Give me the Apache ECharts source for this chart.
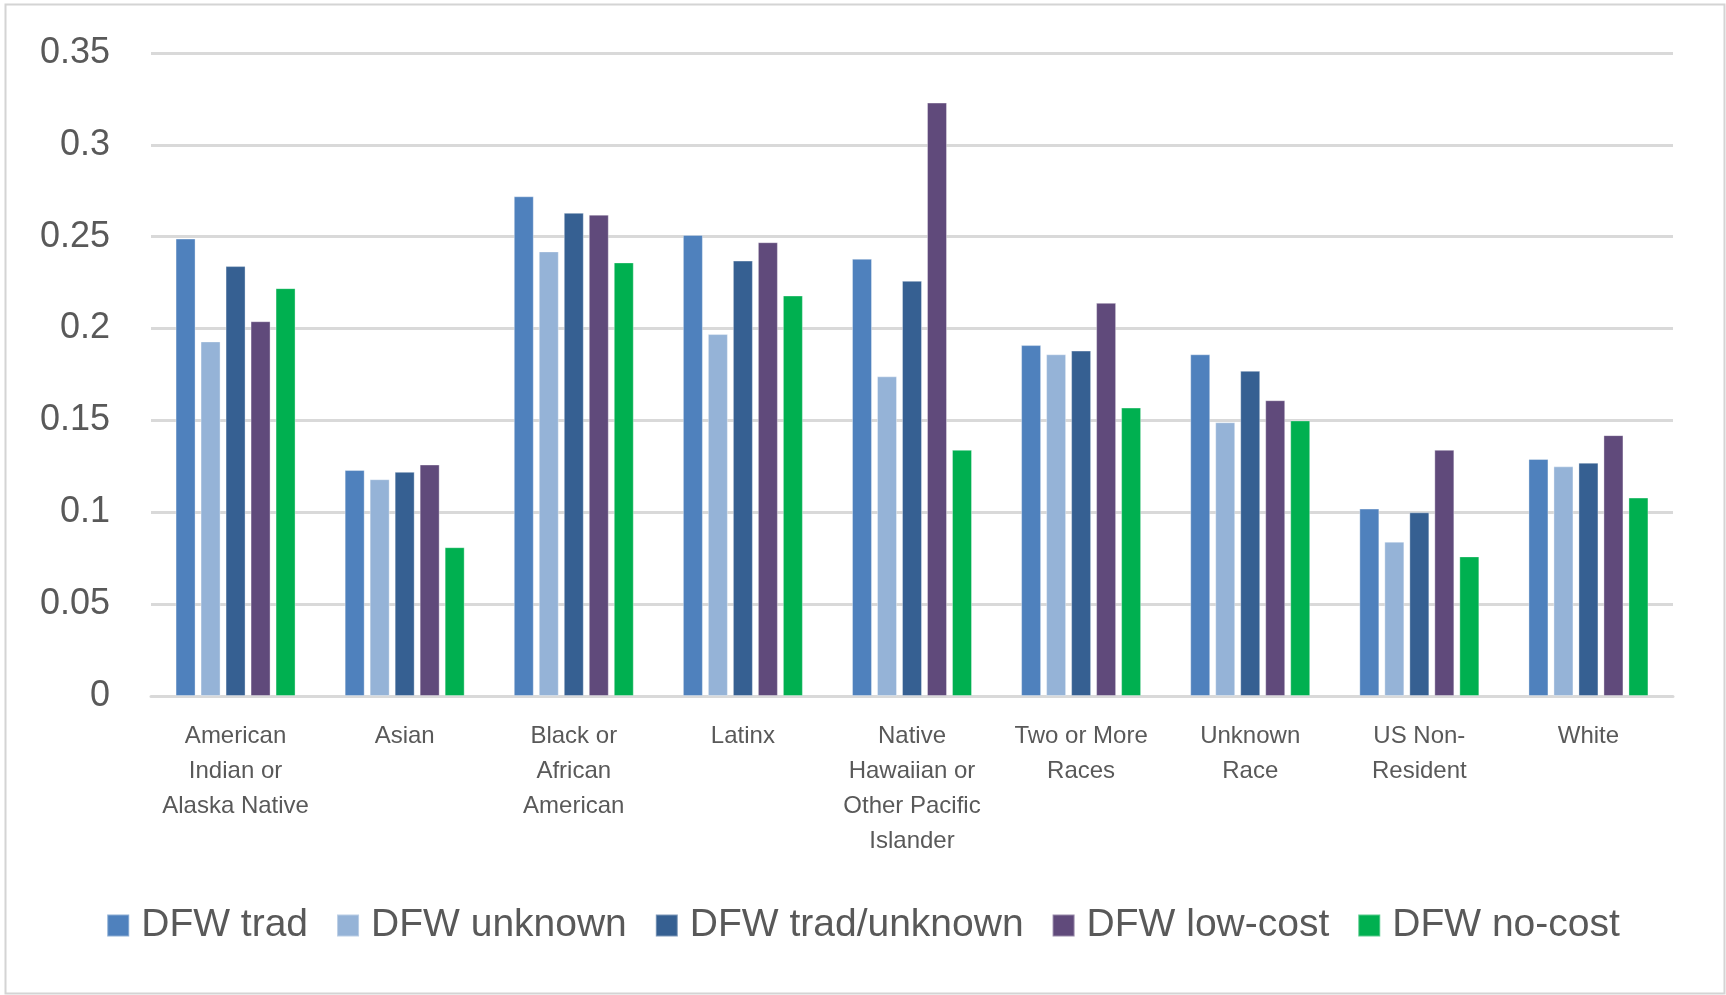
<!DOCTYPE html>
<html>
<head>
<meta charset="utf-8">
<script src="https://cdn.jsdelivr.net/npm/echarts@6/dist/echarts.min.js"></script>
<style>
html,body{margin:0;padding:0;background:#fff;}
#chart{width:1726px;height:995px;}
</style>
</head>
<body>
<div id="chart"></div>
<script>
const categories = [
  'American\nIndian or\nAlaska Native',
  'Asian',
  'Black or\nAfrican\nAmerican',
  'Latinx',
  'Native\nHawaiian or\nOther Pacific\nIslander',
  'Two or More\nRaces',
  'Unknown\nRace',
  'US Non-\nResident',
  'White'
];
const seriesNames = ['DFW trad', 'DFW unknown', 'DFW trad/unknown', 'DFW low-cost', 'DFW no-cost'];
const dfwTrad        = [0.249, 0.123, 0.272, 0.251, 0.238, 0.191, 0.186, 0.102, 0.129];
const dfwUnknown     = [0.193, 0.118, 0.242, 0.197, 0.174, 0.186, 0.149, 0.084, 0.125];
const dfwTradUnknown = [0.234, 0.122, 0.263, 0.237, 0.226, 0.188, 0.177, 0.100, 0.127];
const dfwLowCost     = [0.204, 0.126, 0.262, 0.247, 0.323, 0.214, 0.161, 0.134, 0.142];
const dfwNoCost      = [0.222, 0.081, 0.236, 0.218, 0.134, 0.157, 0.150, 0.076, 0.108];
const yTicks = [0, 0.05, 0.1, 0.15, 0.2, 0.25, 0.3, 0.35];
const colors = ['#4f81bd', '#95b3d7', '#366092', '#604a7b', '#00b050'];
const values = [dfwTrad, dfwUnknown, dfwTradUnknown, dfwLowCost, dfwNoCost];

const chart = echarts.init(document.getElementById('chart'), null, {renderer: 'canvas'});
const font = '"Liberation Sans", Arial, sans-serif';
chart.setOption({
  animation: false,
  backgroundColor: '#ffffff',
  color: colors,
  graphic: [{
    type: 'rect', left: 3, top: 2, silent: true,
    shape: {width: 1719, height: 989},
    style: {fill: 'none', stroke: '#d4d4d4', lineWidth: 2}
  }],
  grid: {left: 151, right: 53, top: 53, bottom: 299, containLabel: false},
  legend: {
    data: seriesNames,
    left: 'center',
    top: 901,
    itemWidth: 22,
    itemHeight: 22,
    itemGap: 28,
    icon: 'rect',
    textStyle: {fontFamily: font, fontSize: 39, color: '#595959', padding: [0, 0, 0, 7]}
  },
  xAxis: {
    type: 'category',
    data: categories,
    axisLine: {lineStyle: {color: '#d9d9d9', width: 3}},
    axisTick: {show: false},
    axisLabel: {
      interval: 0, margin: 23,
      fontFamily: font, fontSize: 24, color: '#595959', lineHeight: 35
    }
  },
  yAxis: {
    type: 'value',
    min: 0, max: 0.35, interval: 0.05,
    axisLine: {show: false},
    axisTick: {show: false},
    splitLine: {lineStyle: {color: '#d9d9d9', width: 3}},
    axisLabel: {
      margin: 41, fontFamily: font, fontSize: 36, color: '#595959',
      formatter: function (v) {
        const t = yTicks.find(x => Math.abs(x - v) < 1e-9);
        return t === undefined ? '' : String(+t.toFixed(2));
      }
    }
  },
  series: seriesNames.map((name, i) => ({
    name: name,
    type: 'bar',
    data: values[i],
    barWidth: 20,
    barGap: '25%',
    itemStyle: {color: colors[i], borderColor: 'rgba(255,255,255,0.35)', borderWidth: 1}
  }))
});
</script>
</body>
</html>
